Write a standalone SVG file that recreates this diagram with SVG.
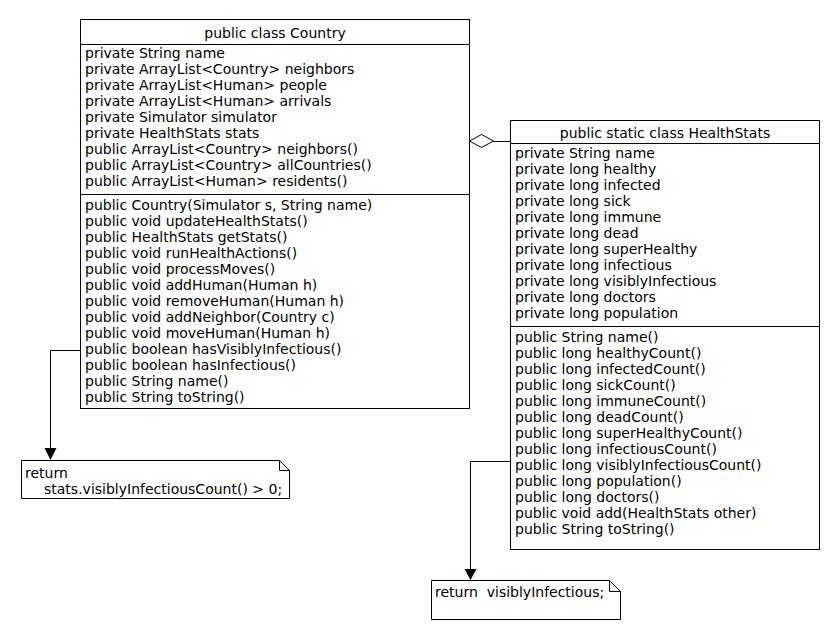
<svg xmlns="http://www.w3.org/2000/svg" width="840" height="640" viewBox="0 0 840 640">
<style>
text{font-family:"DejaVu Sans",Verdana,sans-serif;font-size:14px;fill:#000}
.box{fill:#fff;stroke:#000;stroke-width:1}
.ln{fill:none;stroke:#000;stroke-width:1}
.t{text-anchor:middle}
</style>
<defs>
<marker id="arr" markerWidth="12" markerHeight="12" refX="6" refY="12" orient="auto" markerUnits="userSpaceOnUse" viewBox="0 0 12 12">
<path d="M0,0 L12,0 L6,12 Z" fill="#000" transform="rotate(-90 6 6)"/>
</marker>
</defs>
<rect width="840" height="640" fill="#fff"/>
<g id="Country">
<rect class="box" x="80.5" y="19.5" width="389" height="389"/>
<line class="ln" x1="80.5" y1="44.5" x2="469.5" y2="44.5"/>
<line class="ln" x1="80.5" y1="194.5" x2="469.5" y2="194.5"/>
<text class="t" x="275" y="38">public class Country</text>
<text x="85" y="58">private String name</text>
<text x="85" y="74">private ArrayList&lt;Country&gt; neighbors</text>
<text x="85" y="90">private ArrayList&lt;Human&gt; people</text>
<text x="85" y="106">private ArrayList&lt;Human&gt; arrivals</text>
<text x="85" y="122">private Simulator simulator</text>
<text x="85" y="138">private HealthStats stats</text>
<text x="85" y="154">public ArrayList&lt;Country&gt; neighbors()</text>
<text x="85" y="170">public ArrayList&lt;Country&gt; allCountries()</text>
<text x="85" y="186">public ArrayList&lt;Human&gt; residents()</text>
<text x="85" y="210">public Country(Simulator s, String name)</text>
<text x="85" y="226">public void updateHealthStats()</text>
<text x="85" y="242">public HealthStats getStats()</text>
<text x="85" y="258">public void runHealthActions()</text>
<text x="85" y="274">public void processMoves()</text>
<text x="85" y="290">public void addHuman(Human h)</text>
<text x="85" y="306">public void removeHuman(Human h)</text>
<text x="85" y="322">public void addNeighbor(Country c)</text>
<text x="85" y="338">public void moveHuman(Human h)</text>
<text x="85" y="354">public boolean hasVisiblyInfectious()</text>
<text x="85" y="370">public boolean hasInfectious()</text>
<text x="85" y="386">public String name()</text>
<text x="85" y="402">public String toString()</text>
</g>
<g id="HealthStats">
<rect class="box" x="510.5" y="120.5" width="309" height="429"/>
<line class="ln" x1="510.5" y1="143.5" x2="819.5" y2="143.5"/>
<line class="ln" x1="510.5" y1="326.5" x2="819.5" y2="326.5"/>
<text class="t" x="665" y="138">public static class HealthStats</text>
<text x="515" y="158">private String name</text>
<text x="515" y="174">private long healthy</text>
<text x="515" y="190">private long infected</text>
<text x="515" y="206">private long sick</text>
<text x="515" y="222">private long immune</text>
<text x="515" y="238">private long dead</text>
<text x="515" y="254">private long superHealthy</text>
<text x="515" y="270">private long infectious</text>
<text x="515" y="286">private long visiblyInfectious</text>
<text x="515" y="302">private long doctors</text>
<text x="515" y="318">private long population</text>
<text x="515" y="342">public String name()</text>
<text x="515" y="358">public long healthyCount()</text>
<text x="515" y="374">public long infectedCount()</text>
<text x="515" y="390">public long sickCount()</text>
<text x="515" y="406">public long immuneCount()</text>
<text x="515" y="422">public long deadCount()</text>
<text x="515" y="438">public long superHealthyCount()</text>
<text x="515" y="454">public long infectiousCount()</text>
<text x="515" y="470">public long visiblyInfectiousCount()</text>
<text x="515" y="486">public long population()</text>
<text x="515" y="502">public long doctors()</text>
<text x="515" y="518">public void add(HealthStats other)</text>
<text x="515" y="534">public String toString()</text>
</g>
<g id="note1">
<path class="box" d="M21.5,460.5 H279.5 L289.5,470.5 V498.5 H21.5 Z"/>
<path class="ln" d="M279.5,460.5 V470.5 H289.5"/>
<text x="25" y="478">return</text>
<text x="44" y="494">stats.visiblyInfectiousCount() &gt; 0;</text>
</g>
<g id="note2">
<path class="box" d="M431.5,580.5 H609.5 L620.5,591.5 V619.5 H431.5 Z"/>
<path class="ln" d="M609.5,580.5 V591.5 H620.5"/>
<text x="435" y="597" xml:space="preserve">return  visiblyInfectious;</text>
</g>
<g id="connectors">
<polygon points="469.5,141 481.5,134.5 493.5,141 481.5,147.5" fill="#fff" stroke="#000"/>
<line class="ln" x1="493.5" y1="141.5" x2="510.5" y2="141.5"/>
<path class="ln" d="M80.5,350.5 H50.5 V448"/>
<polygon points="44.5,448 56.5,448 50.5,460" fill="#000"/>
<path class="ln" d="M510.5,461.5 H470.5 V569"/>
<polygon points="464.5,569 476.5,569 470.5,580" fill="#000"/>
</g>
</svg>
